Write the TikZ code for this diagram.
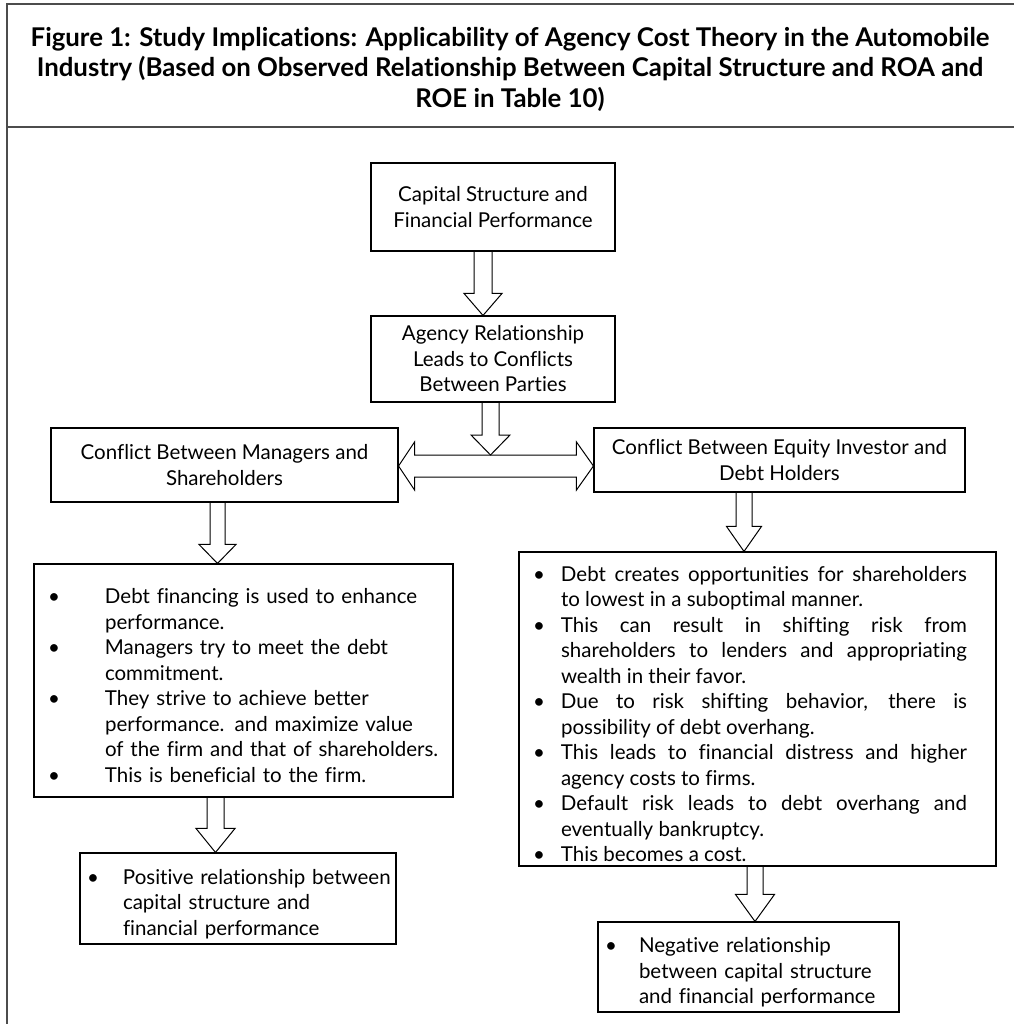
\documentclass[tikz,border=0pt]{standalone}
\usepackage{fontspec}
\setmainfont{Lato}[Ligatures=CommonOff]
\usetikzlibrary{calc}

\newcommand{\boxfont}{\fontsize{20.5}{25.5}\selectfont}
% one bullet line, #1 is the gap from the bullet to the text
\newcommand{\bitem}[2]{\par\noindent\llap{\makebox[#1][l]{\textbullet}}#2}
% hollow arrow pointing down: top, tip, shaft half width, head half width, head length
\newcommand{\blockdown}[5]{%
    \draw[hollow] ($(#1)+(-#3,0)$) -- ($(#2)+(-#3,-#5)$) -- ($(#2)+(-#4,-#5)$) -- (#2)
        -- ($(#2)+(#4,-#5)$) -- ($(#2)+(#3,-#5)$) -- ($(#1)+(#3,0)$);}

\begin{document}
\begin{tikzpicture}[x=1pt, y=-1pt]

                    % Styles for the boxes and the hollow arrows
                    \tikzset{
                        box/.style={draw, line width=1.1pt, inner sep=0pt, align=center, font=\boxfont},
                        listbox/.style={draw, line width=1.1pt, inner sep=0pt, font=\boxfont},
                        hollow/.style={draw, line width=1pt, line join=miter},
                        frameline/.style={draw=black!70, line width=2pt}
                    }
                    \useasboundingbox (0,0) rectangle (1014,1024);

                    % Frame round the figure and its title
                    \begin{scope}
                        \draw[frameline] (7,1024) -- (7,4) -- (1014,4);
                        \draw[frameline] (7,127) -- (1014,127);
                        \node (title) at (510,69) [align=center, font=\bfseries\fontsize{25.8}{30.5}\selectfont]
                            {Figure 1: Study Implications: Applicability of Agency Cost Theory in the Automobile\\
                             Industry (Based on Observed Relationship Between Capital Structure and ROA and\\
                             ROE in Table 10)};
                    \end{scope}

                    % Boxes of the upper part
                    \node (cap) at (493,207) [box, minimum width=244pt, minimum height=88pt]
                        {Capital Structure and\\Financial Performance};
                    \node (agency) at (493,359) [box, minimum width=244pt, minimum height=86pt]
                        {Agency Relationship\\Leads to Conflicts\\Between Parties};
                    \node (mgr) at (224.5,465) [box, minimum width=347pt, minimum height=74pt]
                        {Conflict Between Managers and\\Shareholders};
                    \node (eqty) at (779.5,460) [box, minimum width=371pt, minimum height=64pt]
                        {Conflict Between Equity Investor and\\Debt Holders};

                    % Boxes with the bullet lists
                    \node (mgrlist) at (243.5,680.5) [listbox, text width=419pt, minimum height=233pt]
                        {\leftskip=71pt \rightskip=0pt plus 1fil
                         \bitem{57pt}{Debt financing is used to enhance\newline performance.}
                         \bitem{57pt}{Managers try to meet the debt\newline commitment.}
                         \bitem{57pt}{They strive to achieve better\newline performance. and maximize value\newline of the firm and that of shareholders.}
                         \bitem{57pt}{This is beneficial to the firm.}\par};
                    % spaces may stretch, so that the broken lines fill the measure
                    \node (eqlist) at (757.5,709) [listbox, text width=477pt, minimum height=314pt]
                        {\leftskip=42pt \rightskip=29pt \spaceskip=\fontdimen2\font plus 4\fontdimen2\font
                         \bitem{28pt}{Debt creates opportunities for shareholders\linebreak to lowest in a suboptimal manner.}
                         \bitem{28pt}{This can result in shifting risk from\linebreak shareholders to lenders and appropriating\linebreak wealth in their favor.}
                         \bitem{28pt}{Due to risk shifting behavior, there is\linebreak possibility of debt overhang.}
                         \bitem{28pt}{This leads to financial distress and higher\linebreak agency costs to firms.}
                         \bitem{28pt}{Default risk leads to debt overhang and\linebreak eventually bankruptcy.}
                         \bitem{28pt}{This becomes a cost.}\par};
                    \node (pos) at (238,898.5) [listbox, text width=316pt, minimum height=91pt]
                        {\leftskip=43pt \rightskip=0pt plus 1fil
                         \bitem{36pt}{Positive relationship between\newline capital structure and\newline financial performance}\par};
                    \node (neg) at (748.5,967) [listbox, text width=301pt, minimum height=90pt]
                        {\leftskip=41pt \rightskip=0pt plus 1fil
                         \bitem{34pt}{Negative relationship\newline between capital structure\newline and financial performance}\par};

                    % Ends of the hollow arrows
                    \coordinate (dl) at ($(mgr.east)+(0,1)$);
                    \coordinate (dr) at (eqty.west |- dl);
                    \coordinate (dtop) at ($(dl)+(0,-11)$);
                    \coordinate (a1) at ($(cap.south)+(-10,0)$);
                    \coordinate (t1) at (a1 |- agency.north);
                    \coordinate (a2) at ($(agency.south)+(-2.5,0)$);
                    \coordinate (t2) at (a2 |- dtop);
                    \coordinate (a3) at ($(mgr.south)+(-7,0)$);
                    \coordinate (t3) at (a3 |- mgrlist.north);
                    \coordinate (a4) at ($(mgrlist.south)+(-28,0)$);
                    \coordinate (t4) at (a4 |- pos.north);
                    \coordinate (a5) at ($(eqty.south)+(-35.5,0)$);
                    \coordinate (t5) at (a5 |- eqlist.north);
                    \coordinate (a6) at ($(eqlist.south)+(-2.5,0)$);
                    \coordinate (t6) at (a6 |- neg.north);

                    % Hollow arrows
                    \blockdown{a1}{t1}{9}{19}{22}
                    \blockdown{a2}{t2}{8.5}{19.5}{20}
                    \blockdown{a3}{t3}{7.5}{18.5}{19}
                    \blockdown{a4}{t4}{8.5}{19.5}{24}
                    \blockdown{a5}{t5}{8}{17.5}{25}
                    \blockdown{a6}{t6}{8}{19.5}{27}

                    % Double arrow between the two conflicts
                    \draw[hollow] (dl) -- ++(16,-24) -- ++(0,13) -- ($(dr)+(-17,-11)$) -- ++(0,-13) -- (dr)
                        -- ++(-17,24) -- ++(0,-13) -- ($(dl)+(16,11)$) -- ++(0,13) -- cycle;

\end{tikzpicture}
\end{document}
